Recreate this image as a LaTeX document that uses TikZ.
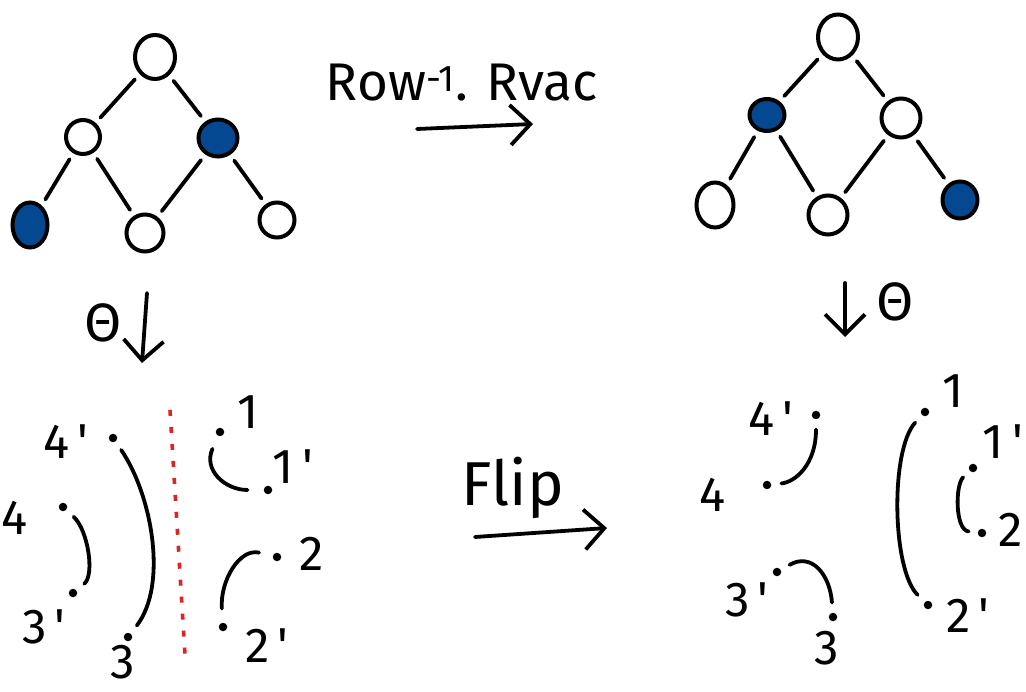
\documentclass[tikz,border=0pt]{standalone}
\usepackage{fontspec}
\setmainfont{Fira Sans}
% labels keep the plain straight apostrophe as a prime tick
\newfontfamily\labfont{Fira Sans}
\usetikzlibrary{shapes.geometric,arrows.meta}
\definecolor{posetblue}{RGB}{4,72,145}
\definecolor{cutred}{RGB}{222,35,35}
\begin{document}
\begin{tikzpicture}[x=1pt,y=-1pt,
  el/.style={ellipse,draw,line width=4pt,inner sep=0pt},
  on/.style={fill=posetblue},
  edge/.style={line width=3.8pt,line cap=round,shorten <=7pt,shorten >=7pt},
  pt/.style={circle,fill,inner sep=0pt,minimum size=8.5pt},
  arcline/.style={line width=3.8pt,line cap=round,shorten <=10pt,shorten >=10pt},
  lbl/.style={font=\labfont\fontsize{49}{49}\selectfont,inner sep=0pt},
  bigtxt/.style={font=\fontsize{53}{53}\selectfont,inner sep=0pt},
  theta/.style={font=\fontsize{54}{54}\selectfont,inner sep=0pt},
  maparrow/.style={line width=3.8pt,line cap=round,
    -{Straight Barb[length=20pt,width=40pt,line width=3.8pt]}},
  cut/.style={cutred,line width=3.6pt,dash pattern=on 6pt off 11pt}
]
\useasboundingbox (0,0) rectangle (1026,692);

% ---------- left poset ----------
\node[el,minimum width=40pt,minimum height=44pt] (la) at (155,57) {};
\node[el,minimum width=34pt,minimum height=34pt] (lb) at (83,137) {};
\node[el,on,minimum width=39pt,minimum height=37pt] (lc) at (218,138) {};
\node[el,on,minimum width=35pt,minimum height=45pt] (ld) at (30,225) {};
\node[el,minimum width=37pt,minimum height=37pt] (le) at (145,233) {};
\node[el,minimum width=35pt,minimum height=35pt] (lf) at (277,220) {};
\draw[edge] (la) -- (lb);
\draw[edge] (la) -- (lc);
\draw[edge] (lb) -- (ld);
\draw[edge] (lb) -- (le);
\draw[edge] (lc) -- (le);
\draw[edge] (lc) -- (lf);

% ---------- right poset ----------
\node[el,minimum width=40pt,minimum height=45pt] (ra) at (838,37) {};
\node[el,on,minimum width=35pt,minimum height=32pt] (rb) at (767,115) {};
\node[el,minimum width=39pt,minimum height=39pt] (rc) at (901,118) {};
\node[el,minimum width=37pt,minimum height=45pt] (rd) at (715,205) {};
\node[el,minimum width=39pt,minimum height=39pt] (re) at (828,215) {};
\node[el,on,minimum width=35pt,minimum height=37pt] (rf) at (960,200) {};
\draw[edge] (ra) -- (rb);
\draw[edge] (ra) -- (rc);
\draw[edge] (rb) -- (rd);
\draw[edge] (rb) -- (re);
\draw[edge] (rc) -- (re);
\draw[edge] (rc) -- (rf);

% ---------- top map ----------
\node[bigtxt] (rowtxt) at (462,83) {Row\textsuperscript{-1}. Rvac};
\coordinate (rowA) at (417,129);
\coordinate (rowB) at (533,124);
\draw[maparrow] (rowA) -- (rowB);

% ---------- vertical maps ----------
\node[theta] (thl) at (103,323) {Θ};
\coordinate (dlA) at (147,293);
\coordinate (dlB) at (142,363);
\draw[maparrow] (dlA) -- (dlB);

\node[theta] (thr) at (895,302) {Θ};
\coordinate (drA) at (845,283);
\coordinate (drB) at (845,337);
\draw[maparrow] (drA) -- (drB);

% ---------- flip map ----------
\node[font=\fontsize{62}{62}\selectfont,inner sep=0pt] (fliptxt) at (513,488) {Flip};
\coordinate (flA) at (475,537);
\coordinate (flB) at (607,528);
\draw[maparrow] (flA) -- (flB);

% ---------- left matching ----------
\node[pt] (L4p) at (113,438) {};
\node[pt] (L3)  at (128,637) {};
\node[pt] (L4)  at (63,507) {};
\node[pt] (L3p) at (73,593) {};
\node[pt] (L1)  at (220,432) {};
\node[pt] (L1p) at (268,490) {};
\node[pt] (L2)  at (277,557) {};
\node[pt] (L2p) at (223,627) {};

\draw[arcline] (L4p) .. controls (152,495) and (168,585) .. (L3);
\draw[arcline] (L4) .. controls (88,530) and (95,575) .. (L3p);
\draw[arcline,shorten <=14pt,shorten >=16pt] (L1) .. controls (203,470) and (225,490) .. (L1p);
\draw[arcline,shorten <=14pt,shorten >=14pt] (L2) .. controls (240,548) and (220,580) .. (L2p);

\node[lbl] (tL4p) at (66,442) {4\,'};
\node[lbl] (tL3)  at (123,662) {3};
\node[lbl] (tL4)  at (15,518) {4};
\node[lbl] (tL3p) at (44,627) {3\,'};
\node[lbl] (tL1)  at (248,412) {1};
\node[lbl] (tL1p) at (293,467) {1\,'};
\node[lbl] (tL2)  at (312,554) {2};
\node[lbl] (tL2p) at (267,646) {2\,'};

\coordinate (cutA) at (170,410);
\coordinate (cutB) at (185,655);
\draw[cut] (cutA) -- (cutB);

% ---------- right matching ----------
\node[pt] (R4p) at (816,415) {};
\node[pt] (R4)  at (767,485) {};
\node[pt] (R3p) at (777,572) {};
\node[pt] (R3)  at (833,617) {};
\node[pt] (R1)  at (925,412) {};
\node[pt] (R2p) at (928,605) {};
\node[pt] (R1p) at (973,468) {};
\node[pt] (R2)  at (982,533) {};

\draw[arcline] (R4p) .. controls (816,465) and (795,482) .. (R4);
\draw[arcline] (R3p) .. controls (812,552) and (830,575) .. (R3);
\draw[arcline] (R1) .. controls (890,450) and (892,570) .. (R2p);
\draw[arcline,shorten <=9pt,shorten >=9pt] (R1p) .. controls (955,485) and (955,530) .. (R2);

\node[lbl] (tR4p) at (771,419) {4\,'};
\node[lbl] (tR4)  at (713,495) {4};
\node[lbl] (tR3p) at (747,600) {3\,'};
\node[lbl] (tR3)  at (827,648) {3};
\node[lbl] (tR1)  at (953,391) {1};
\node[lbl] (tR1p) at (1003,442) {1\,'};
\node[lbl] (tR2)  at (1011,530) {2};
\node[lbl] (tR2p) at (968,616) {2\,'};
\end{tikzpicture}
\end{document}
